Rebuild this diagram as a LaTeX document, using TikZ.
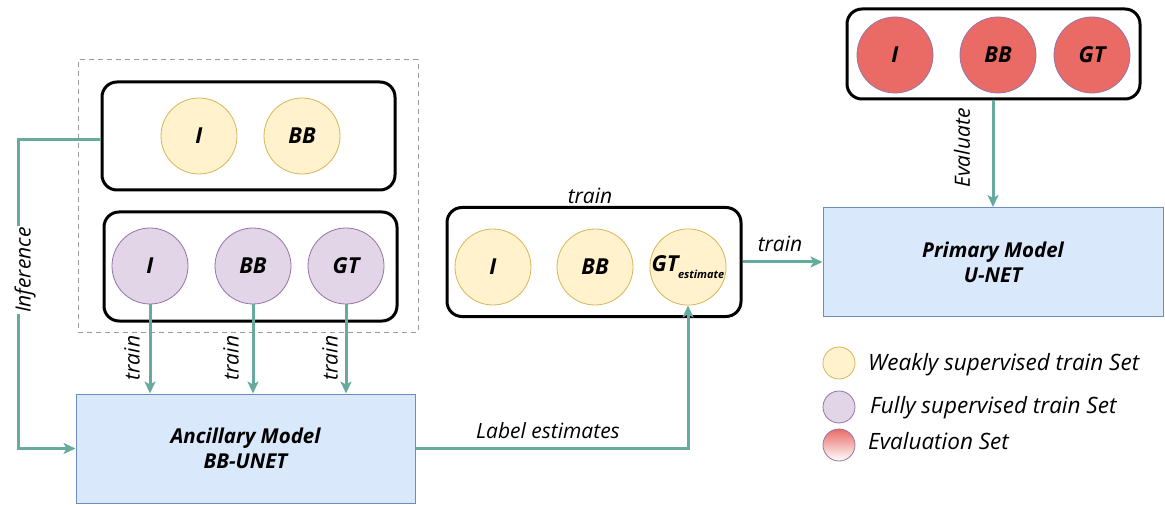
\documentclass[tikz,border=0pt]{standalone}
\usepackage{fontspec}
\setmainfont{Open Sans}
\usetikzlibrary{arrows.meta,positioning}
\definecolor{yfill}{HTML}{FFF2CC}
\definecolor{ydraw}{HTML}{D6B656}
\definecolor{pfill}{HTML}{E1D5E7}
\definecolor{pdraw}{HTML}{9673A6}
\definecolor{rfill}{HTML}{EA6B66}
\definecolor{bfill}{HTML}{DAE8FC}
\definecolor{bdraw}{HTML}{6C8EBF}
\definecolor{teal}{HTML}{67AB9F}
\tikzset{
  setbox/.style={draw=black, line width=3pt, rounded corners=15pt, fill=white},
  dot/.style={circle, minimum size=76pt, inner sep=0pt, font=\fontsize{22}{25}\selectfont\bfseries\itshape},
  ydot/.style={dot, fill=yfill, draw=ydraw, line width=0.8pt},
  pdot/.style={dot, fill=pfill, draw=pdraw, line width=0.8pt},
  rdot/.style={dot, fill=rfill, draw=pdraw, line width=0.8pt},
  model/.style={draw=bdraw, fill=bfill, line width=1pt, align=center, font=\fontsize{20.5}{25}\selectfont\bfseries\itshape},
  arr/.style={draw=teal, line width=3pt, -{Stealth[length=12pt,width=11pt,inset=3pt]}},
  lbl/.style={font=\fontsize{21}{24}\selectfont\itshape, inner sep=1pt},
  leg/.style={circle, minimum size=32pt, inner sep=0pt, line width=0.8pt},
  legtxt/.style={anchor=west, font=\fontsize{22.5}{26}\selectfont\itshape, inner sep=0pt}
}
\begin{document}
\begin{tikzpicture}[x=1pt,y=-1pt]
\useasboundingbox (0,0) rectangle (1165,505);
% dashed group
\node[draw=gray!80, dashed, dash pattern=on 5pt off 4pt, line width=1pt, minimum width=340pt, minimum height=272pt, inner sep=0pt] (grp) at (248,196) {};
% top weak set
\node[setbox, minimum width=293pt, minimum height=108pt] (top) at (248.5,136) {};
\node[ydot] (wI) at (199,136) {I};
\node[ydot] (wBB) at (302,136) {BB};
% fully supervised set
\node[setbox, minimum width=293pt, minimum height=109pt] (full) at (250.5,266.5) {};
\node[pdot] (fI) at (150,266) {I};
\node[pdot] (fBB) at (253,266) {BB};
\node[pdot] (fGT) at (346,266) {GT};
% ancillary model
\node[model, minimum width=339pt, minimum height=109pt] (anc) at (245.5,448.5) {Ancillary Model\\BB-UNET};
% middle set
\node[setbox, minimum width=294pt, minimum height=109pt] (mid) at (594,262) {};
\node[ydot] (mI) at (493,267) {I};
\node[ydot] (mBB) at (595,267) {BB};
\node[ydot] (mGT) at (688,267) {GT\kern-0.5pt\raisebox{-0.6ex}{\fontsize{11}{11}\selectfont estimate}};
\node[lbl] (ltrain) at (590,196) {train};
% primary model
\node[model, minimum width=340pt, minimum height=109pt] (prim) at (993,262) {Primary Model\\U-NET};
% evaluation set
\node[setbox, minimum width=293pt, minimum height=90pt] (ev) at (993.5,54) {};
\node[rdot] (eI) at (895,55) {I};
\node[rdot] (eBB) at (998,55) {BB};
\node[rdot] (eGT) at (1092,55) {GT};
% connectors
\draw[arr] (top.west |- 0,140) -- (18,140) |- (anc.west);
\node[lbl, rotate=90, fill=white] (linf) at (25,270) {Inference};
\draw[arr] (fI.south) -- (fI.south |- anc.north);
\draw[arr] (fBB.south) -- (fBB.south |- anc.north);
\draw[arr] (fGT.south) -- (fGT.south |- anc.north);
\node[lbl, rotate=90] (lt1) at (132,358) {train};
\node[lbl, rotate=90] (lt2) at (231,358) {train};
\node[lbl, rotate=90] (lt3) at (330,358) {train};
\draw[arr] (anc.east) -| (mGT.south);
\node[lbl] (lest) at (548,431) {Label estimates};
\draw[arr] (mid.east) -- (mid.east -| prim.west);
\node[lbl] (lt4) at (780,244) {train};
\draw[arr] (ev.south -| prim.north) -- (prim.north);
\node[lbl, rotate=90] (leval) at (962,148) {Evaluate};
% legend
\node[leg, fill=yfill, draw=ydraw] (lg1) at (839,363) {};
\node[legtxt] (lgt1) at (868,365) {Weakly supervised train Set};
\node[leg, fill=pfill, draw=pdraw] (lg2) at (839,407) {};
\node[legtxt] (lgt2) at (870,408) {Fully supervised train Set};
\node[leg, top color=rfill, bottom color=white, draw=pdraw] (lg3) at (839,445) {};
\node[legtxt] (lgt3) at (868,441) {Evaluation Set};
\end{tikzpicture}
\end{document}
